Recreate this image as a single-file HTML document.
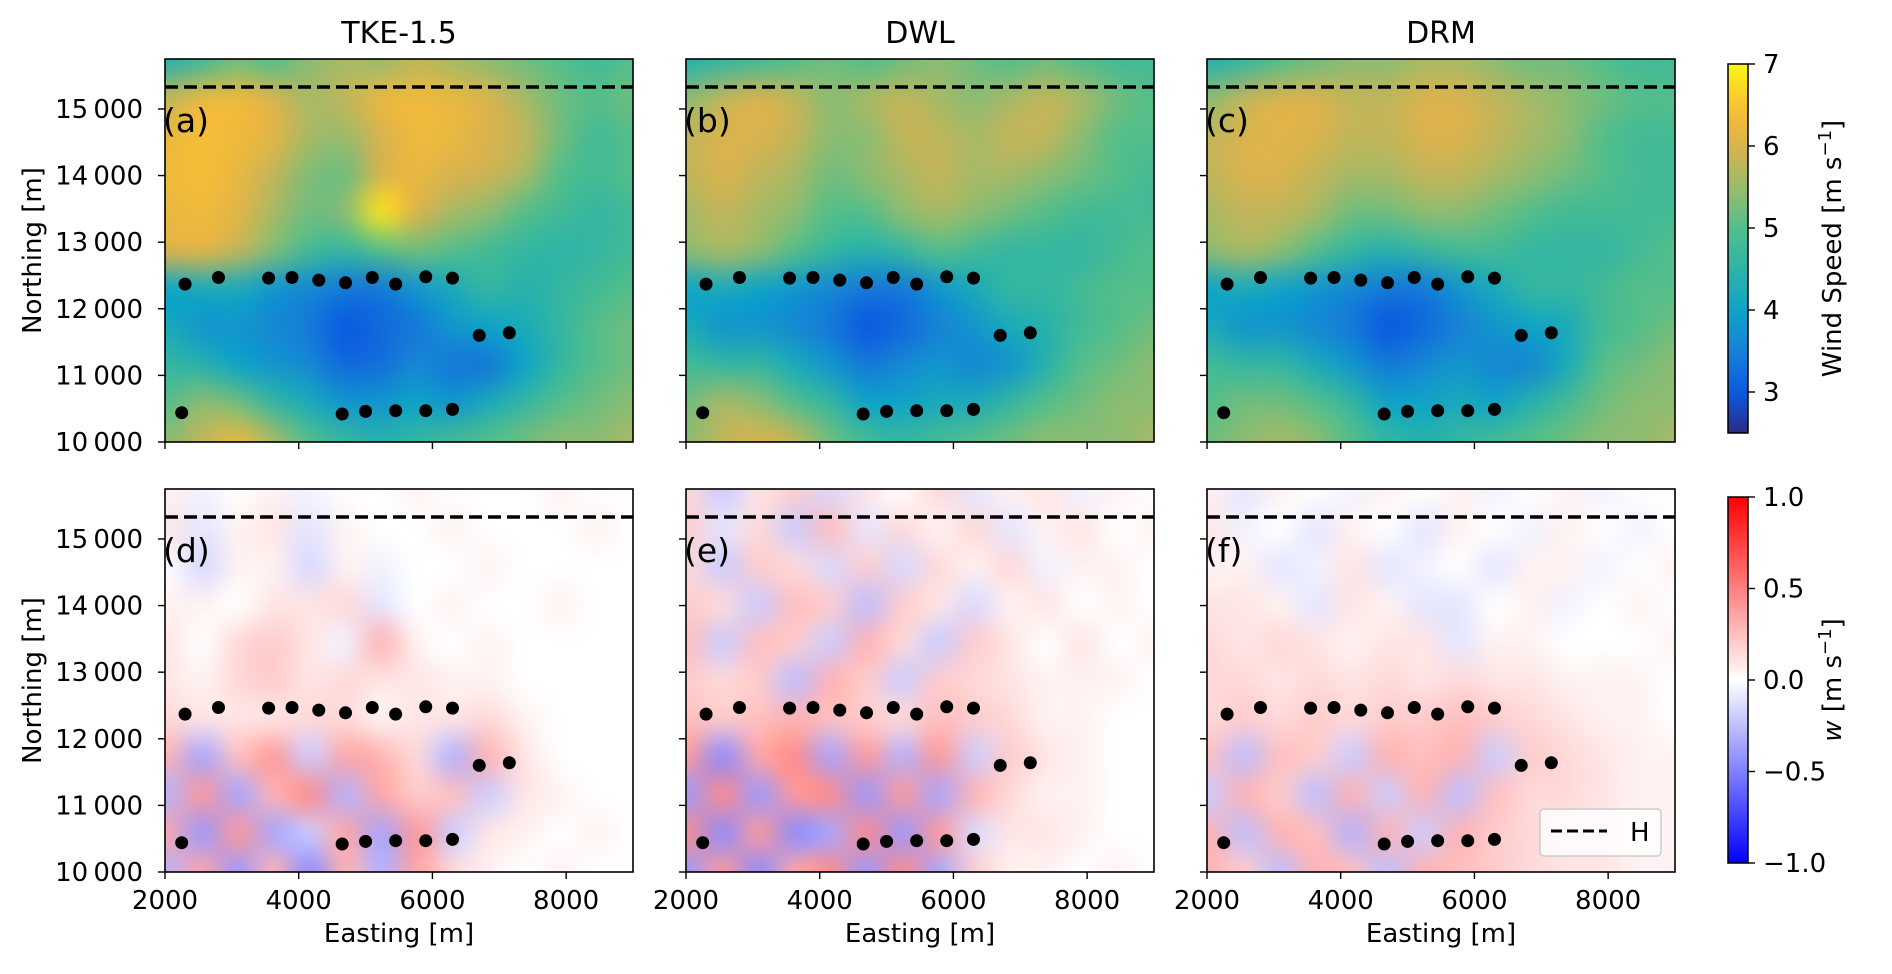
<!DOCTYPE html>
<html><head><meta charset="utf-8">
<style>
html,body{margin:0;padding:0;background:#fff;}
#wrap{position:relative;width:1892px;height:974px;overflow:hidden;font-family:"DejaVu Sans","Liberation Sans",sans-serif;}
canvas{position:absolute;}
svg{position:absolute;left:0;top:0;}
text{font-family:"DejaVu Sans","Liberation Sans",sans-serif;fill:#000;}
</style></head>
<body>
<div id="wrap">
<svg id="svg" width="1892" height="974"></svg>
</div>
<script>
// ---------- data ----------
const panelTitles = ["TKE-1.5","DWL","DRM"];
const panelLetters = [["(a)","(b)","(c)"],["(d)","(e)","(f)"]];
const xTicks = [2000,4000,6000,8000];
const yTicks = [10000,11000,12000,13000,14000,15000];
const yTickLabels = ["10\u2009000","11\u2009000","12\u2009000","13\u2009000","14\u2009000","15\u2009000"];
const windTicks = [3,4,5,6,7];
const wTicks = [-1.0,-0.5,0.0,0.5,1.0];
const wTickLabels = ["\u22121.0","\u22120.5","0.0","0.5","1.0"];
const boundaryH = 15330;
const turbX = [2300,2800,3550,3900,4300,4700,5100,5450,5900,6300,6700,7150,2250,4650,5000,5450,5900,6300];
const turbY = [12370,12470,12460,12470,12430,12390,12470,12370,12480,12460,11600,11640,10440,10420,10460,10470,10470,10490];
// wind speed grids (rows top->bottom, 14 cols from x=2000 to 9000)
const windA = [
[4.4,4.8,5.2,5.0,5.4,5.6,5.5,5.8,5.6,5.4,5.2,5.0,4.8,5.0],
[5.8,6.2,6.3,6.0,5.6,5.8,6.2,6.3,6.2,6.0,5.6,5.2,5.0,5.2],
[6.2,6.4,6.3,6.1,5.6,5.5,6.0,6.3,6.2,6.0,5.8,5.2,4.8,5.0],
[6.3,6.4,6.2,5.8,5.3,5.2,6.0,6.2,6.0,5.9,5.6,5.0,4.8,5.0],
[6.2,6.3,6.1,5.6,5.2,5.4,6.8,6.0,5.6,5.4,5.0,4.8,4.6,4.8],
[6.0,6.1,5.8,5.3,4.8,4.6,5.0,5.2,5.0,4.8,4.6,4.5,4.6,4.8],
[4.0,4.2,4.2,3.8,3.6,3.4,3.4,3.8,4.2,4.6,4.4,4.6,4.8,5.0],
[4.2,3.8,3.8,3.6,3.4,3.0,3.2,3.4,3.8,4.0,4.2,4.6,5.0,5.2],
[4.6,4.4,4.0,3.8,3.6,3.2,3.3,3.6,3.4,3.4,4.0,4.6,5.0,5.2],
[5.0,5.4,5.2,4.6,4.2,3.8,3.8,4.0,3.8,4.2,4.6,5.0,5.2,5.4],
[5.4,5.8,6.2,5.6,5.0,4.6,4.4,4.6,4.8,5.0,5.2,5.4,5.4,5.6]];
const windB = [
[4.4,4.6,4.8,5.0,5.2,5.0,5.2,5.4,5.2,5.0,5.2,5.0,4.8,4.8],
[5.4,5.8,6.0,5.8,5.4,5.6,5.8,5.6,5.4,5.6,5.8,5.6,5.2,5.0],
[5.8,6.0,6.0,5.8,5.4,5.4,5.8,5.8,5.6,5.8,5.8,5.4,5.0,5.0],
[5.8,6.0,5.8,5.6,5.2,5.4,5.6,5.8,5.6,5.6,5.4,5.2,5.0,4.8],
[5.6,5.8,5.6,5.4,5.0,5.0,5.4,5.6,5.4,5.2,5.0,4.8,4.8,4.8],
[5.4,5.6,5.4,5.0,4.6,4.4,4.6,5.0,4.8,4.6,4.6,4.6,4.8,5.0],
[4.0,4.2,4.0,3.8,3.6,3.4,3.4,3.8,4.2,4.6,4.6,4.8,5.0,5.0],
[4.2,3.8,3.8,3.6,3.4,3.0,3.2,3.5,3.8,4.2,4.4,4.8,5.0,5.2],
[4.8,4.6,4.6,4.2,3.8,3.4,3.6,3.8,3.6,3.8,4.4,5.0,5.2,5.4],
[5.2,5.6,5.4,5.0,4.6,4.0,4.0,4.2,4.2,4.6,5.0,5.2,5.4,5.4],
[5.4,5.8,6.0,5.8,5.2,4.8,4.6,4.8,5.0,5.2,5.4,5.4,5.4,5.6]];
const windC = [
[4.4,4.6,5.0,5.2,5.4,5.4,5.6,5.6,5.4,5.2,5.2,5.0,4.8,4.8],
[5.4,5.8,6.0,6.0,5.8,5.8,6.0,6.0,5.8,5.6,5.4,5.2,5.0,5.0],
[5.8,6.0,6.1,6.0,5.8,5.8,6.0,6.0,5.8,5.6,5.4,5.0,4.8,4.8],
[5.8,6.0,6.0,5.8,5.6,5.6,5.8,5.8,5.6,5.4,5.2,5.0,4.8,4.8],
[5.6,5.8,5.8,5.6,5.2,5.2,5.4,5.4,5.2,5.0,4.8,4.8,4.8,4.8],
[5.4,5.6,5.4,5.0,4.6,4.4,4.6,4.8,4.8,4.6,4.6,4.6,4.8,5.0],
[4.0,4.2,4.0,3.8,3.6,3.4,3.4,3.8,4.2,4.6,4.6,4.8,5.0,5.0],
[4.2,3.8,3.8,3.6,3.4,3.0,3.2,3.5,3.8,4.0,4.2,4.8,5.0,5.2],
[4.8,4.6,4.6,4.2,3.8,3.4,3.6,3.8,3.6,3.6,4.2,5.0,5.2,5.4],
[5.0,5.2,5.2,5.0,4.6,4.0,4.0,4.2,4.0,4.4,4.8,5.2,5.4,5.4],
[5.2,5.4,5.6,5.4,5.0,4.6,4.4,4.6,4.8,5.0,5.2,5.4,5.4,5.6]];
// vertical velocity grids (rows top->bottom, 14 cols)
const wD = [
[0.05,-0.05,0.0,0.05,-0.05,0.0,0.0,0.05,0.0,0.0,0.0,0.05,0.0,0.0],
[0.1,-0.1,0.05,0.1,-0.1,0.05,0.0,0.0,0.05,0.0,0.0,0.0,0.05,0.0],
[0.0,-0.15,0.05,0.05,-0.15,0.05,-0.05,0.0,0.0,0.05,0.0,0.0,0.0,0.0],
[0.05,0.05,0.0,0.1,0.1,0.15,-0.1,0.0,0.05,0.0,0.0,0.05,0.0,0.0],
[0.1,0.0,0.15,0.2,0.1,-0.05,0.3,0.05,0.0,0.05,0.0,0.0,0.0,0.0],
[0.1,0.05,0.15,0.2,0.1,0.15,0.1,0.1,0.05,0.05,0.0,0.0,0.0,0.0],
[0.15,0.1,0.1,0.1,0.15,0.15,0.05,0.1,0.1,0.15,0.05,0.0,0.0,0.0],
[0.3,-0.35,0.25,0.4,-0.2,0.35,0.3,0.15,-0.3,0.3,0.1,0.0,0.0,0.0],
[-0.3,0.4,-0.35,0.3,0.45,-0.3,0.35,0.2,0.25,-0.2,0.1,0.05,0.0,0.0],
[0.35,-0.4,0.4,-0.35,-0.2,0.35,-0.35,0.4,-0.2,0.1,0.05,0.0,0.05,0.0],
[-0.3,0.35,-0.4,0.3,-0.45,0.3,-0.3,0.35,0.15,0.05,0.0,0.05,0.0,0.0]];
const wE = [
[0.15,-0.2,0.1,0.2,-0.15,0.1,0.0,0.15,-0.1,0.05,0.1,-0.05,0.05,0.0],
[0.2,-0.1,0.15,-0.2,0.25,-0.1,0.15,0.05,0.15,-0.1,0.05,0.1,0.0,0.05],
[0.15,-0.2,0.2,0.15,-0.15,0.2,-0.15,0.15,0.05,0.15,-0.05,0.05,0.05,0.0],
[0.2,0.15,-0.2,0.25,0.2,-0.25,0.2,0.1,-0.15,0.05,0.1,0.0,0.05,0.0],
[0.25,-0.2,0.25,0.2,-0.2,0.3,0.15,-0.2,0.2,0.1,0.0,0.1,0.0,0.05],
[0.2,0.15,0.2,-0.25,0.3,0.2,-0.2,0.2,0.15,0.1,0.05,0.05,0.05,0.0],
[0.25,0.2,0.25,0.3,0.25,0.2,0.15,0.25,0.2,0.15,0.05,0.05,0.0,0.0],
[0.4,-0.45,0.35,0.45,-0.35,0.4,-0.3,0.4,-0.2,0.2,0.1,0.05,0.0,0.0],
[-0.4,0.45,-0.4,0.4,0.45,-0.4,0.4,-0.35,0.3,0.15,0.05,0.05,0.0,0.0],
[0.45,-0.45,0.4,-0.45,-0.35,0.45,-0.4,0.4,-0.15,0.1,0.1,0.05,0.0,0.0],
[-0.4,0.4,-0.45,0.35,0.45,-0.4,0.45,-0.35,0.2,0.05,0.05,0.0,0.05,0.0]];
const wF = [
[0.05,-0.1,0.05,0.0,-0.05,0.05,0.0,0.05,-0.05,0.0,0.05,-0.05,0.0,0.0],
[0.1,-0.05,0.0,-0.1,0.05,0.0,-0.1,0.05,0.0,-0.05,0.05,0.0,-0.05,0.0],
[0.05,0.05,-0.1,-0.05,0.1,-0.1,-0.05,0.0,-0.1,0.05,0.05,-0.05,0.0,0.05],
[0.1,0.1,0.05,-0.1,0.1,0.05,-0.1,-0.1,0.0,0.05,-0.05,0.0,0.05,0.0],
[0.15,0.1,0.15,0.1,0.05,0.1,0.1,-0.1,0.05,0.05,0.0,0.0,0.0,0.05],
[0.15,0.15,0.1,0.15,0.1,0.15,0.1,0.15,0.1,0.1,0.05,0.05,0.05,0.0],
[0.15,0.2,0.15,0.2,0.15,0.2,0.2,0.25,0.2,0.15,0.1,0.05,0.05,0.0],
[0.25,-0.25,0.25,0.2,-0.2,0.3,0.25,0.3,-0.2,0.2,0.15,0.1,0.05,0.05],
[-0.2,0.3,0.2,-0.25,0.3,-0.2,0.3,-0.25,0.25,0.15,0.15,0.1,0.05,0.05],
[0.3,-0.25,0.3,0.25,-0.3,0.3,-0.2,0.3,0.2,0.15,0.1,0.1,0.05,0.05],
[0.3,0.2,-0.25,0.3,0.25,-0.25,0.3,0.25,0.2,0.15,0.1,0.1,0.05,0.05]];
const windGrids = [windA,windB,windC];
const wGrids = [wD,wE,wF];

// ---------- layout ----------
const colLeft = [165,686,1207];
const PW = 468;
const rowTop = [59,489];
const PH = 383;
const X0 = 2000, X1 = 9000, Y0 = 10000, Y1 = 15750;
const cbX = 1728, cbW = 20;
const cbTop = [64,497], cbBot = [433,863];
const WMIN = 2.5, WMAX = 7;

function xs(c, v){ return colLeft[c] + (v - X0)/(X1 - X0)*PW; }
function ys(r, v){ return rowTop[r] + PH - (v - Y0)/(Y1 - Y0)*PH; }

const parula = [[0,[44,42,132]],[0.11,[10,90,225]],[0.22,[24,128,214]],[0.33,[14,163,200]],[0.44,[44,180,168]],[0.55,[80,190,140]],[0.66,[150,188,110]],[0.77,[215,178,80]],[0.88,[250,190,50]],[1,[248,248,20]]];
function interp(stops,t){
  t=Math.max(0,Math.min(1,t));
  for(let i=1;i<stops.length;i++){ if(t<=stops[i][0]){ const a=stops[i-1],b=stops[i]; const f=(t-a[0])/(b[0]-a[0]); return a[1].map((v,k)=>Math.round(v+(b[1][k]-v)*f)); } }
  return stops[stops.length-1][1];
}
const bwr = [[0,[0,0,255]],[0.5,[255,255,255]],[1,[255,0,0]]];
function windColor(v){ return interp(parula,(v-WMIN)/(WMAX-WMIN)); }
function wColor(v){ return interp(bwr,(v+1)/2); }

const NS='http://www.w3.org/2000/svg';
const svg=document.getElementById('svg');
const wrap=document.getElementById('wrap');
function el(tag,attrs,parent){ const e=document.createElementNS(NS,tag); for(const k in attrs) e.setAttribute(k,attrs[k]); (parent||svg).appendChild(e); return e; }
function txt(s,attrs,parent){ const t=el('text',attrs,parent); t.textContent=s; return t; }

function drawHeat(r,c,grid,colorFn,name){
  const rows=grid.length, cols=grid[0].length;
  const small=document.createElement('canvas'); small.width=cols; small.height=rows;
  const sc=small.getContext('2d'); const img=sc.createImageData(cols,rows);
  for(let i=0;i<rows;i++) for(let j=0;j<cols;j++){ const col=colorFn(grid[i][j]); const k=(i*cols+j)*4; img.data[k]=col[0];img.data[k+1]=col[1];img.data[k+2]=col[2];img.data[k+3]=255; }
  sc.putImageData(img,0,0);
  const cv=document.createElement('canvas');
  
  
  cv.width=PW; cv.height=PH; cv.style.left=colLeft[c]+'px'; cv.style.top=rowTop[r]+'px';
  const ctx=cv.getContext('2d'); ctx.imageSmoothingEnabled=true; ctx.imageSmoothingQuality='high';
  ctx.drawImage(small,-PW/cols/2,-PH/rows/2,PW+PW/cols,PH+PH/rows);
  wrap.insertBefore(cv,svg);
}

for(let r=0;r<2;r++){
  for(let c=0;c<3;c++){
    const L=panelLetters[r][c].replace(/[()]/g,'');
    if(r===0) drawHeat(r,c,windGrids[c],windColor,'wind-speed-map-'+L);
    else drawHeat(r,c,wGrids[c],wColor,'vertical-velocity-map-'+L);
    const g=el('g',{});
    
    
    const hl=el('line',{x1:colLeft[c],x2:colLeft[c]+PW,y1:ys(r,boundaryH),y2:ys(r,boundaryH),stroke:'#000','stroke-width':3.5,'stroke-dasharray':'13,6'},g);
    
    
    for(let i=0;i<turbX.length;i++){
      const d=el('circle',{cx:xs(c,turbX[i]),cy:ys(r,turbY[i]),r:6.5,fill:'#000'},g);
      
      
    }
    el('rect',{x:colLeft[c],y:rowTop[r],width:PW,height:PH,fill:'none',stroke:'#000','stroke-width':1.6},g);
    const pl=txt(panelLetters[r][c],{x:colLeft[c]-2,y:ys(r,15000)+23,'font-size':33},g);
    
    
    yTicks.forEach((v,i)=>{
      const y=ys(r,v);
      el('line',{x1:colLeft[c]-7,x2:colLeft[c],y1:y,y2:y,stroke:'#000','stroke-width':1.4},g);
      if(c===0){ const t=txt(yTickLabels[i],{x:colLeft[c]-22,y:y+9,'font-size':26,'text-anchor':'end'},g);
        
         }
    });
    xTicks.forEach(v=>{
      const x=xs(c,v), yb=rowTop[r]+PH;
      el('line',{x1:x,x2:x,y1:yb,y2:yb+7,stroke:'#000','stroke-width':1.4},g);
      if(r===1){ const t=txt(String(v),{x:x,y:yb+37,'font-size':26,'text-anchor':'middle'},g);
        
         }
    });
    if(r===0){ const t=txt(panelTitles[c],{x:colLeft[c]+PW/2,y:43,'font-size':30,'text-anchor':'middle'});
      
       }
    if(r===1){ const t=txt('Easting [m]',{x:colLeft[c]+PW/2,y:942,'font-size':26,'text-anchor':'middle'});
      
       }
    if(c===0){ const t=txt('Northing [m]',{x:0,y:0,'font-size':26,'text-anchor':'middle',transform:`translate(41,${rowTop[r]+PH/2}) rotate(-90)`});
      
       }
  }
}

const lg=el('g',{});


el('rect',{x:1540,y:809,width:121,height:47,rx:4,fill:'rgba(255,255,255,0.8)',stroke:'#ccc','stroke-width':1.5},lg);
el('line',{x1:1551,x2:1607,y1:831,y2:831,stroke:'#000','stroke-width':3,'stroke-dasharray':'11,5'},lg);
const lt=txt('H',{x:1630,y:841,'font-size':26},lg);



const defs=el('defs',{});
function grad(id,fn,lo,hi){
  const gr=el('linearGradient',{id:id,x1:0,y1:1,x2:0,y2:0},defs);
  for(let i=0;i<=20;i++){ const col=fn(lo+(hi-lo)*i/20); el('stop',{offset:i/20,'stop-color':`rgb(${col.join(',')})`},gr); }
}
grad('gWind',windColor,WMIN,WMAX);
grad('gW',wColor,-1,1);
function colorbar(r,gid,lo,hi,ticks,labels,title,name){
  const g=el('g',{});
  
  
  el('rect',{x:cbX,y:cbTop[r],width:cbW,height:cbBot[r]-cbTop[r],fill:`url(#${gid})`,stroke:'#000','stroke-width':1.5},g);
  ticks.forEach((v,i)=>{
    const y=cbBot[r]-(v-lo)/(hi-lo)*(cbBot[r]-cbTop[r]);
    el('line',{x1:cbX+cbW,x2:cbX+cbW+7,y1:y,y2:y,stroke:'#000','stroke-width':1.4},g);
    const t=txt(labels[i],{x:cbX+cbW+15,y:y+9,'font-size':26},g);
    
    
  });
  const cy=(cbTop[r]+cbBot[r])/2;
  const t=el('text',{x:0,y:0,'font-size':26,'text-anchor':'middle',transform:`translate(1841,${cy}) rotate(-90)`},g);
  t.innerHTML=title;
  
  
}
colorbar(0,'gWind',WMIN,WMAX,windTicks,windTicks.map(String),'Wind Speed [m s<tspan dy="-10" font-size="18">\u22121</tspan><tspan dy="10">]</tspan>','wind-speed-colorbar');
colorbar(1,'gW',-1,1,wTicks,wTickLabels,'<tspan font-style="italic">w</tspan> [m s<tspan dy="-10" font-size="18">\u22121</tspan><tspan dy="10">]</tspan>','vertical-velocity-colorbar');
</script>
</body></html>
